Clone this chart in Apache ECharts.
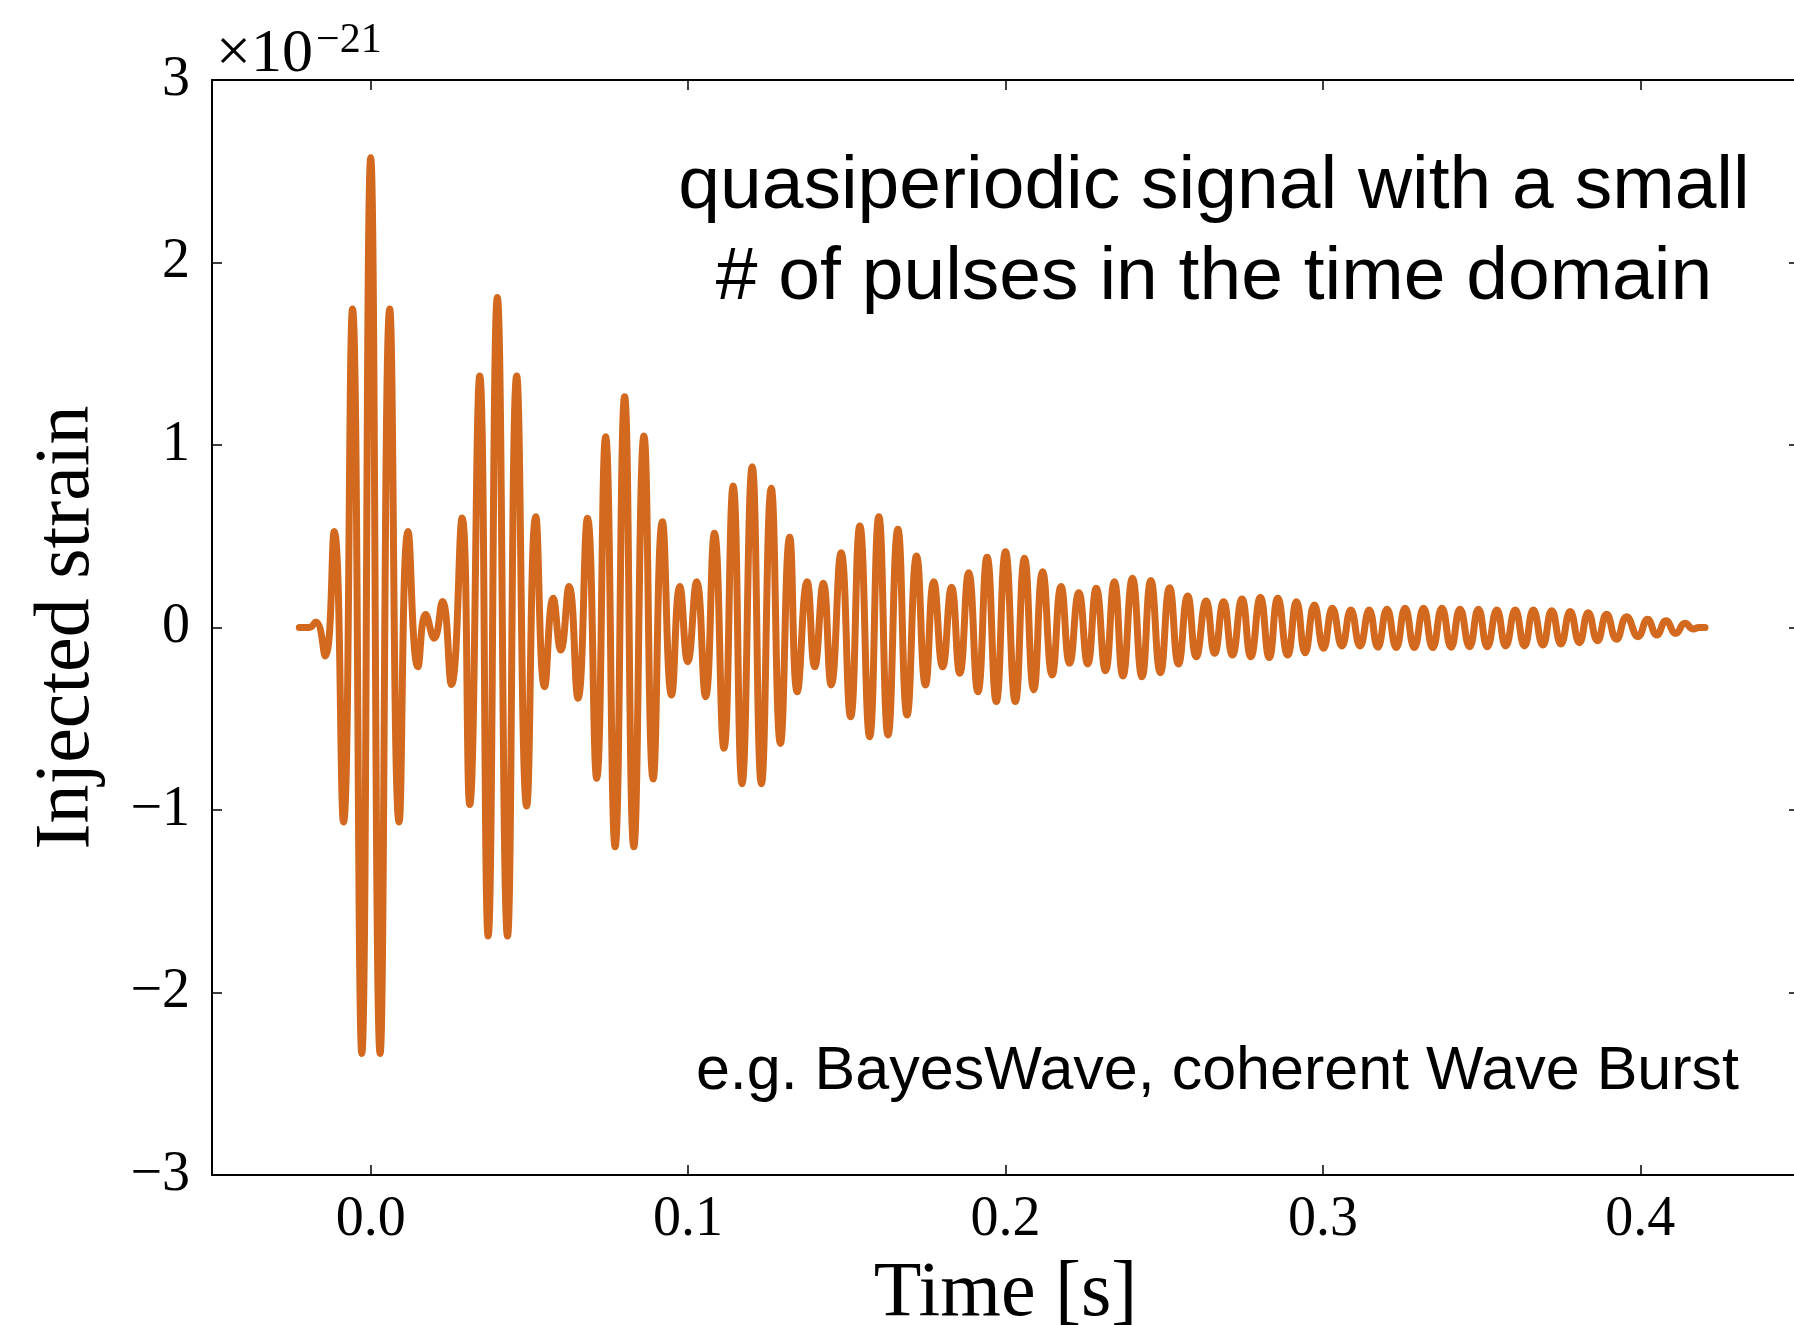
<!DOCTYPE html>
<html>
<head>
<meta charset="utf-8">
<script src="https://cdn.jsdelivr.net/npm/echarts@6/dist/echarts.min.js"></script>
<style>
html,body{margin:0;padding:0;background:#fff;}
#chart{width:1794px;height:1325px;}
</style>
</head>
<body>
<div id="chart"></div>
<script>
// Time of each extremum (s)
const times = [
-0.0225,-0.0194,-0.0173,-0.01435,-0.0115,-0.00857,-0.00573,-0.0028,0.0,0.00297,
0.0060,0.00895,0.01178,0.0149,0.01735,0.0200,0.0226,0.02543,0.0288,0.0312,
0.03435,0.0370,0.0399,0.0431,0.0460,0.04915,0.0520,0.0548,0.0575,0.0599,
0.0625,0.0653,0.0683,0.0712,0.0740,0.0770,0.0800,0.0829,0.0861,0.0890,
0.0919,0.0948,0.0974,0.0999,0.1027,0.1055,0.1083,0.1113,0.1142,0.1170,
0.1202,0.1231,0.1262,0.1291,0.1320,0.1344,0.1375,0.1399,0.1426,0.1451,
0.1482,0.1512,0.1541,0.1572,0.1601,0.1630,0.1661,0.1690,0.1720,0.1748,
0.1774,0.1802,0.1830,0.1856,0.1884,0.1913,0.1942,0.1971,0.2000,0.2031,
0.2060,0.2089,0.2117,0.2147,0.2175,0.2202,0.2231,0.2259,0.2286,0.2315,
0.2343,0.2370,0.2400,0.2430,0.2458,0.2488,0.2517,0.2545,0.2574,0.2601,
0.2632,0.2659,0.2687,0.2715,0.2745,0.2773,0.2803,0.2831,0.2858,0.2889,
0.2917,0.2944,0.2973,0.3002,0.3030,0.3060,0.3088,0.3117,0.3146,0.3173,
0.3202,0.3231,0.3259,0.3288,0.3317,0.3346,0.3375,0.3404,0.3432,0.3462,
0.3490,0.3518,0.3548,0.3576,0.3606,0.3635,0.3663,0.3693,0.3721,0.3750,
0.3779,0.3808,0.3836,0.3865,0.3894,0.3925,0.3957,0.3993,0.4023,0.4052,
0.4081,0.4112,0.4141,0.4167,0.4185,0.4204
];
// Injected strain at each time (units of 1e-21)
const strain = [
0,0,0.03,-0.156,0.526,-1.066,1.745,-2.334,2.574,-2.334,
1.745,-1.066,0.526,-0.215,0.071,-0.059,0.143,-0.312,0.60,-0.97,
1.378,-1.69,1.808,-1.69,1.378,-0.978,0.607,-0.324,0.16,-0.123,
0.224,-0.388,0.598,-0.826,1.045,-1.201,1.265,-1.201,1.05,-0.83,
0.58,-0.37,0.224,-0.187,0.251,-0.379,0.516,-0.662,0.775,-0.856,
0.881,-0.856,0.763,-0.635,0.494,-0.352,0.251,-0.215,0.242,-0.315,
0.41,-0.489,0.556,-0.598,0.607,-0.589,0.538,-0.479,0.392,-0.315,
0.251,-0.215,0.22,-0.251,0.30,-0.352,0.385,-0.406,0.415,-0.406,
0.379,-0.342,0.306,-0.26,0.224,-0.196,0.191,-0.20,0.215,-0.237,
0.251,-0.266,0.27,-0.27,0.257,-0.248,0.218,-0.20,0.173,-0.16,
0.145,-0.141,0.141,-0.151,0.156,-0.16,0.165,-0.165,0.16,-0.151,
0.141,-0.138,0.123,-0.114,0.105,-0.101,0.096,-0.101,0.096,-0.108,
0.10,-0.11,0.105,-0.11,0.105,-0.11,0.105,-0.108,0.10,-0.105,
0.10,-0.105,0.096,-0.101,0.096,-0.101,0.096,-0.096,0.092,-0.09,
0.087,-0.083,0.081,-0.072,0.072,-0.065,0.059,-0.05,0.045,-0.041,
0.037,-0.032,0.023,-0.008,0,0
];
const xTicks = [0.0, 0.1, 0.2, 0.3, 0.4];
const yTicks = [-3, -2, -1, 0, 1, 2, 3];
const annotationLines = ['quasiperiodic signal with a small', '# of pulses in the time domain'];
const methodsText = 'e.g. BayesWave, coherent Wave Burst';

const seriesData = times.map((t, i) => [t, strain[i]]);
const serif = '"Liberation Serif", "Times New Roman", serif';
const sans = '"Liberation Sans", Arial, Helvetica, sans-serif';
const fmtY = v => v < 0 ? '\u2212' + Math.abs(v) : String(v);

const chart = echarts.init(document.getElementById('chart'), null, {renderer: 'canvas'});
chart.setOption({
  animation: false,
  backgroundColor: '#ffffff',
  grid: {left: 212, top: 80, right: -5, bottom: 150, containLabel: false, outerBoundsMode: 'none'},
  xAxis: [{
    type: 'value', min: -0.05, max: 0.45, position: 'bottom',
    name: 'Time [s]', nameLocation: 'middle', nameGap: 81,
    nameTextStyle: {fontFamily: serif, fontSize: 78, color: '#000'},
    axisLine: {show: true, onZero: false, lineStyle: {color: '#000', width: 2}},
    axisTick: {show: true, inside: true, length: 10, customValues: xTicks, lineStyle: {color: '#000', width: 1.5}},
    axisLabel: {show: true, customValues: xTicks, margin: 17, fontFamily: serif, fontSize: 56, color: '#000',
      formatter: v => v.toFixed(1)},
    splitLine: {show: false}
  }, {
    type: 'value', min: -0.05, max: 0.45, position: 'top',
    axisLine: {show: true, onZero: false, lineStyle: {color: '#000', width: 2}},
    axisTick: {show: true, inside: true, length: 10, customValues: xTicks, lineStyle: {color: '#000', width: 1.5}},
    axisLabel: {show: false},
    splitLine: {show: false}
  }],
  yAxis: [{
    type: 'value', min: -3, max: 3, interval: 1, position: 'left',
    name: 'Injected strain', nameLocation: 'middle', nameGap: 105,
    nameTextStyle: {fontFamily: serif, fontSize: 78, color: '#000'},
    axisLine: {show: true, onZero: false, lineStyle: {color: '#000', width: 2}},
    axisTick: {show: true, inside: true, length: 10, lineStyle: {color: '#000', width: 1.5}},
    axisLabel: {show: true, margin: 22, fontFamily: serif, fontSize: 56, color: '#000', formatter: fmtY},
    splitLine: {show: false}
  }, {
    type: 'value', min: -3, max: 3, interval: 1, position: 'right',
    axisLine: {show: true, onZero: false, lineStyle: {color: '#000', width: 2}},
    axisTick: {show: true, inside: true, length: 10, lineStyle: {color: '#000', width: 1.5}},
    axisLabel: {show: false},
    splitLine: {show: false}
  }],
  series: [{
    type: 'line', xAxisIndex: 0, yAxisIndex: 0,
    data: seriesData, showSymbol: false, symbol: 'none', smooth: 0.5,
    lineStyle: {color: '#d2691e', width: 7, cap: 'round', join: 'round'},
    silent: true
  }],
  graphic: [
    {type: 'text', left: 216, top: 24, style: {text: '\u00d710', font: '62px ' + serif, fill: '#000'}},
    {type: 'text', left: 316, top: 20, style: {text: '\u221221', font: '42px ' + serif, fill: '#000'}},
    {type: 'text', x: 1214, y: 187, style: {text: annotationLines[0], font: '75px ' + sans, fill: '#000', align: 'center', verticalAlign: 'middle'}},
    {type: 'text', x: 1214, y: 278, style: {text: annotationLines[1], font: '75px ' + sans, fill: '#000', align: 'center', verticalAlign: 'middle'}},
    {type: 'text', x: 1739, y: 1072, style: {text: methodsText, font: '61px ' + sans, fill: '#000', align: 'right', verticalAlign: 'middle'}}
  ]
});
</script>
</body>
</html>
